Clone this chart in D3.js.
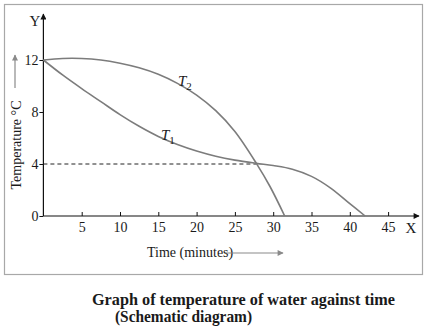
<!DOCTYPE html>
<html>
<head>
<meta charset="utf-8">
<script src="https://cdn.jsdelivr.net/npm/d3@7"></script>
<style>
	body { margin: 0; background: #fff; }
	svg { display: block; }
	text { font-family: "Liberation Serif", "Times New Roman", serif; fill: #1a1a1a; }
</style>
</head>
<body>
<svg id="chart" width="429" height="327"></svg>
<script>

// time in minutes, temperature in degrees C
var xTicks = [5, 10, 15, 20, 25, 30, 35, 40, 45];
var yTicks = [0, 4, 8, 12];

var t1Time = [0, 2.5, 5, 7.5, 10, 12.5, 15, 17.5, 20, 22.5, 25, 27.8, 30, 32.5, 35, 37.5, 40, 42];
var t1Temp = [12, 10.85, 9.8, 8.8, 7.8, 6.9, 6.12, 5.5, 5.0, 4.6, 4.3, 4.05, 3.88, 3.6, 3.05, 2.15, 0.95, 0];

var t2Time = [0, 2.5, 5, 7.5, 10, 12.5, 15, 17.5, 20, 22.5, 25, 27.8, 29.6, 31.5];
var t2Temp = [12, 12.12, 12.12, 12.0, 11.75, 11.4, 10.9, 10.2, 9.3, 8.1, 6.5, 4.05, 2.25, 0];

var crossing = [27.8, 4];

var svg = d3.select("#chart");

var x = d3.scaleLinear().domain([0, 45]).range([43.4, 388.1]);
var y = d3.scaleLinear().domain([0, 12]).range([216, 60]);

// arrow heads
var defs = svg.append("defs");
function arrowHead(id, color, w, h){
	defs.append("marker")
		.attr("id", id)
		.attr("viewBox", "0 0 10 10")
		.attr("refX", 9).attr("refY", 5)
		.attr("markerUnits", "userSpaceOnUse")
		.attr("markerWidth", w).attr("markerHeight", h)
		.attr("orient", "auto")
		.append("path")
		.attr("d", "M0,0 L10,5 L0,10 z")
		.style("fill", color);
}
arrowHead("axisArrow", "#111", 8, 6);
arrowHead("greyArrow", "#8a8a8a", 8, 6);

// outer frame
svg.append("rect")
	.attr("x", 4.5).attr("y", 4.5)
	.attr("width", 418).attr("height", 270)
	.style("fill", "none")
	.style("stroke", "#a8a8a8")
	.style("stroke-width", 1.2);

// axes
var xAxis = d3.axisBottom(x).tickValues(xTicks).tickSizeInner(-4).tickSizeOuter(0).tickPadding(6);
var gx = svg.append("g").attr("transform", "translate(0," + y(0) + ")").call(xAxis);
gx.select(".domain").remove();

var yAxis = d3.axisLeft(y).tickValues(yTicks).tickSizeInner(4).tickSizeOuter(0).tickPadding(1);
var gy = svg.append("g").attr("transform", "translate(" + x(0) + ",0)").call(yAxis);
gy.select(".domain").remove();

svg.selectAll(".tick line").style("stroke", "#111").style("stroke-width", 1);
svg.selectAll(".tick text")
	.style("font-family", "Liberation Serif")
	.style("font-size", "14px")
	.style("fill", "#1a1a1a");

svg.append("line")
	.attr("x1", x(0)).attr("y1", y(0))
	.attr("x2", 419).attr("y2", y(0))
	.style("stroke", "#111").style("stroke-width", 1.2)
	.attr("marker-end", "url(#axisArrow)");

svg.append("line")
	.attr("x1", x(0)).attr("y1", y(0))
	.attr("x2", x(0)).attr("y2", 14)
	.style("stroke", "#111").style("stroke-width", 1.2)
	.attr("marker-end", "url(#axisArrow)");

svg.append("text").attr("x", 411).attr("y", 233).attr("text-anchor", "middle")
	.style("font-size", "15px").text("X");
svg.append("text").attr("x", 35).attr("y", 26).attr("text-anchor", "middle")
	.style("font-size", "15px").text("Y");

// dashed line at 4 degrees
svg.append("line")
	.attr("x1", x(0)).attr("y1", y(crossing[1]))
	.attr("x2", x(crossing[0])).attr("y2", y(crossing[1]))
	.style("stroke", "#222").style("stroke-width", 1)
	.style("stroke-dasharray", "4,3");

// the two cooling curves
var line = d3.line()
	.x(function(d){ return x(d[0]); })
	.y(function(d){ return y(d[1]); })
	.curve(d3.curveCatmullRom.alpha(0.5));

var curves = [
	{ name: "1", pts: d3.zip(t1Time, t1Temp), lx: 161, ly: 140 },
	{ name: "2", pts: d3.zip(t2Time, t2Temp), lx: 178, ly: 86 }
];

curves.forEach(function(c){
	svg.append("path")
		.attr("d", line(c.pts))
		.style("fill", "none")
		.style("stroke", "#7c7c7c")
		.style("stroke-width", 1.6);

	var lbl = svg.append("text").attr("x", c.lx).attr("y", c.ly)
		.style("font-size", "15px").style("font-style", "italic");
	lbl.append("tspan").text("T");
	lbl.append("tspan").attr("dy", 4).style("font-size", "11px").style("font-style", "normal").text(c.name);
});

// axis titles with their little arrows
svg.append("text")
	.attr("transform", "translate(21,145) rotate(-90)")
	.attr("text-anchor", "middle")
	.style("font-size", "14px")
	.text("Temperature °C");
svg.append("line")
	.attr("x1", 15).attr("y1", 88).attr("x2", 15).attr("y2", 55)
	.style("stroke", "#8a8a8a").style("stroke-width", 1.2)
	.attr("marker-end", "url(#greyArrow)");

svg.append("text")
	.attr("x", 147).attr("y", 257)
	.style("font-size", "14px")
	.text("Time (minutes)");
svg.append("line")
	.attr("x1", 225).attr("y1", 253).attr("x2", 283).attr("y2", 253)
	.style("stroke", "#8a8a8a").style("stroke-width", 1.2)
	.attr("marker-end", "url(#greyArrow)");

// caption
svg.append("text").attr("x", 92).attr("y", 305)
	.attr("textLength", 303).attr("lengthAdjust", "spacingAndGlyphs")
	.style("font-size", "16px").style("font-weight", "bold")
	.text("Graph of temperature of water against time");
svg.append("text").attr("x", 115).attr("y", 322)
	.attr("textLength", 137).attr("lengthAdjust", "spacingAndGlyphs")
	.style("font-size", "16px").style("font-weight", "bold")
	.text("(Schematic diagram)");

</script>
</body>
</html>
